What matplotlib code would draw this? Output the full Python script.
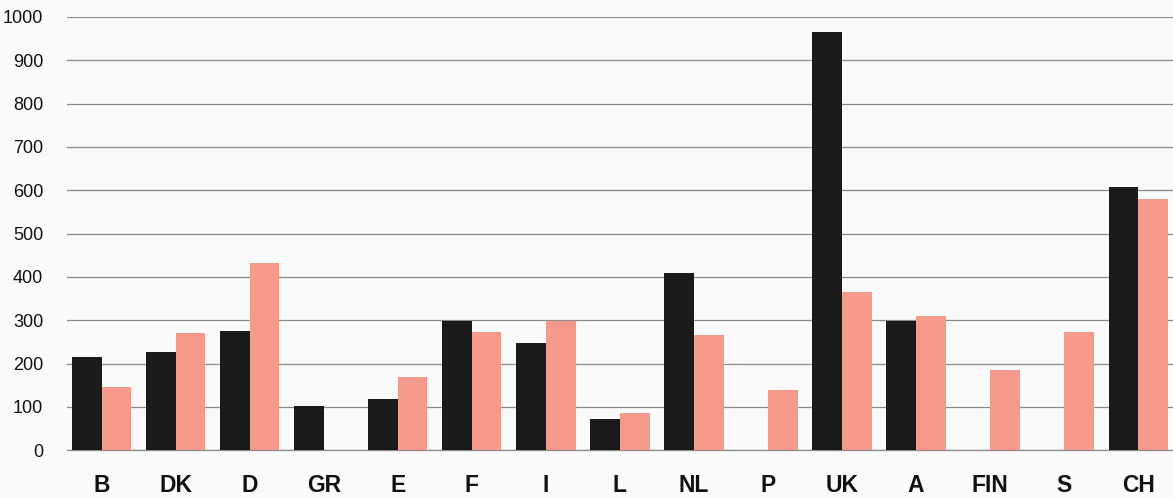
import numpy as np
import matplotlib.pyplot as plt

countries = ['B', 'DK', 'D', 'GR', 'E', 'F', 'I', 'L', 'NL', 'P',
             'UK', 'A', 'FIN', 'S', 'CH']
black_vals = [215, 227, 275, 102, 118, 298, 248, 72, 410, 0,
              965, 298, 0, 0, 608]
salmon_vals = [146, 271, 432, 0, 168, 273, 298, 85, 267, 138,
               366, 309, 185, 273, 579]
yticks = [0, 100, 200, 300, 400, 500, 600, 700, 800, 900, 1000]

plt.rcParams['font.family'] = ['Liberation Sans', 'DejaVu Sans']

fig = plt.figure(figsize=(11.73, 4.98), dpi=100)
fig.patch.set_facecolor('#fafafa')
ax = fig.add_axes([0.057, 0.096, 0.943, 0.870])
ax.set_facecolor('#fafafa')

x = np.arange(len(countries))
width = 0.4

ax.bar(x - width / 2, black_vals, width, color='#1a1a1a', zorder=3)
ax.bar(x + width / 2, salmon_vals, width, color='#f59a8b', zorder=3)

ax.set_ylim(0, 1000)
ax.set_xlim(-0.47, 14.47)
ax.set_yticks(yticks)
ax.set_yticklabels([str(v) for v in yticks], fontsize=13)
ax.set_xticks(x)
ax.set_xticklabels(countries, fontsize=16.5, fontweight='bold')

ax.grid(axis='y', color='#8a8a8a', linewidth=0.9, zorder=0)
ax.set_axisbelow(True)
for s in ['top', 'right', 'left']:
    ax.spines[s].set_visible(False)
ax.spines['bottom'].set_color('#8a8a8a')
ax.spines['bottom'].set_linewidth(0.9)
ax.tick_params(axis='both', length=0, colors='#111111')
ax.tick_params(axis='y', pad=17)
ax.tick_params(axis='x', pad=17)

fig.savefig('out.png', dpi=100, facecolor=fig.get_facecolor())
